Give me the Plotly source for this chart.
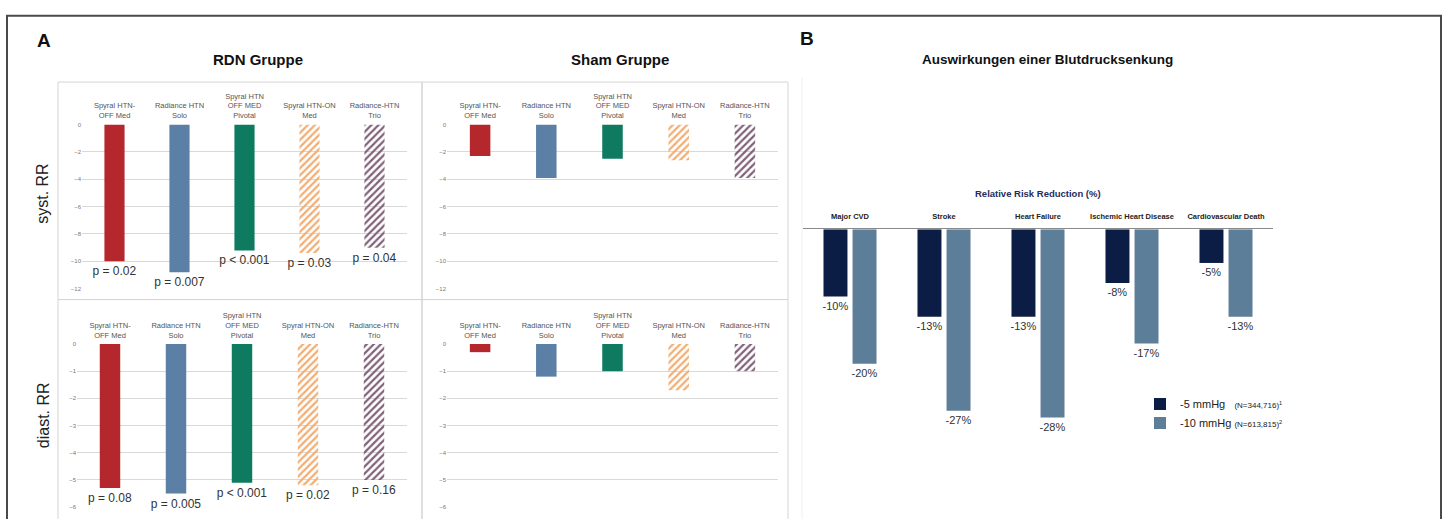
import plotly.graph_objects as go

W, H = 1447, 519

# ---------------- data ----------------
categories_A = ["Spyral HTN-<br>OFF Med", "Radiance HTN<br>Solo",
                "Spyral HTN<br>OFF MED<br>Pivotal", "Spyral HTN-ON<br>Med",
                "Radiance-HTN<br>Trio"]
rdn_syst = [-10.0, -10.8, -9.2, -9.4, -9.0]
rdn_syst_p = ["p = 0.02", "p = 0.007", "p < 0.001", "p = 0.03", "p = 0.04"]
sham_syst = [-2.3, -3.9, -2.5, -2.6, -3.9]
rdn_diast = [-5.3, -5.5, -5.1, -5.2, -5.0]
rdn_diast_p = ["p = 0.08", "p = 0.005", "p < 0.001", "p = 0.02", "p = 0.16"]
sham_diast = [-0.3, -1.2, -1.0, -1.7, -1.0]
syst_ticks = [0, -2, -4, -6, -8, -10, -12]
diast_ticks = [0, -1, -2, -3, -4, -5, -6]

outcomes = ["Major CVD", "Stroke", "Heart Failure", "Ischemic Heart Disease",
            "Cardiovascular Death"]
rrr_5 = [-10, -13, -13, -8, -5]
rrr_10 = [-20, -27, -28, -17, -13]
legend_5 = "-5 mmHg   <span style='font-size:8px'>(N=344,716)<sup>1</sup></span>"
legend_10 = "-10 mmHg <span style='font-size:8px'>(N=613,815)<sup>2</sup></span>"

# ---------------- styles ----------------
bar_colors = ["#b3272d", "#5b7fa5", "#0e7a5f", "#f2ad72", "#80627a"]
hatch_shapes = ["", "", "", "/", "/"]
dark_navy = "#0c1d45"
steel = "#5d7e98"
FONT = "Liberation Sans, Arial, sans-serif"


def X(px):
    return px / W


def Y(py):
    return 1 - py / H


fig = go.Figure()


def panel_bars(vals, xa, ya, texts=None):
    fig.add_trace(go.Bar(
        x=categories_A, y=vals, xaxis=xa, yaxis=ya, width=0.31,
        marker=dict(color=bar_colors, line=dict(width=0),
                    pattern=dict(shape=hatch_shapes, bgcolor="white",
                                 size=5, solidity=0.45, fillmode="replace")),
        text=texts, textposition="outside" if texts else None,
        textfont=dict(size=12, color="#333", family=FONT),
        constraintext="none", cliponaxis=False, showlegend=False,
        hoverinfo="skip"))


panel_bars(rdn_syst, "x", "y", rdn_syst_p)
panel_bars(sham_syst, "x2", "y2")
panel_bars(rdn_diast, "x3", "y3", rdn_diast_p)
panel_bars(sham_diast, "x4", "y4")

fig.add_trace(go.Bar(
    x=outcomes, y=rrr_5, xaxis="x5", yaxis="y5", name=legend_5,
    width=0.255, offset=-0.282, marker=dict(color=dark_navy, line=dict(width=0)),
    text=[f"{v}%" for v in rrr_5], textposition="outside",
    textfont=dict(size=11, color="#333", family=FONT),
    constraintext="none", cliponaxis=False))
fig.add_trace(go.Bar(
    x=outcomes, y=rrr_10, xaxis="x5", yaxis="y5", name=legend_10,
    width=0.255, offset=0.027, marker=dict(color=steel, line=dict(width=0)),
    text=[f"{v}%" for v in rrr_10], textposition="outside",
    textfont=dict(size=11, color="#333", family=FONT),
    constraintext="none", cliponaxis=False))

xA = dict(type="category", side="top", showgrid=False, ticks="", showline=False,
          zeroline=False, tickfont=dict(size=7.5, color="#555", family=FONT),
          ticklabelstandoff=4, tickangle=0, fixedrange=True)
yA = dict(showgrid=True, gridcolor="#d9d9d9", gridwidth=1, zeroline=False,
          showline=False, ticks="", tickfont=dict(size=6, color="#777", family=FONT),
          fixedrange=True)

fig.update_layout(
    width=W, height=H, autosize=False,
    margin=dict(l=0, r=0, t=0, b=0),
    paper_bgcolor="white", plot_bgcolor="white",
    barmode="overlay",
    font=dict(family=FONT),
    xaxis=dict(xA, domain=[X(82), X(407)], anchor="y"),
    yaxis=dict(yA, domain=[Y(289), Y(123)], range=[-12, 0], tickvals=syst_ticks, anchor="x"),
    xaxis2=dict(xA, domain=[X(447), X(778)], anchor="y2"),
    yaxis2=dict(yA, domain=[Y(289), Y(123)], range=[-12, 0], tickvals=syst_ticks, anchor="x2"),
    xaxis3=dict(xA, domain=[X(77), X(407)], anchor="y3"),
    yaxis3=dict(yA, domain=[Y(510), Y(345)], range=[-6, 0], tickvals=diast_ticks, anchor="x3"),
    xaxis4=dict(xA, domain=[X(447), X(778)], anchor="y4"),
    yaxis4=dict(yA, domain=[Y(510), Y(345)], range=[-6, 0], tickvals=diast_ticks, anchor="x4"),
    xaxis5=dict(type="category", side="top", domain=[X(803), X(1273)], anchor="y5",
                showgrid=False, ticks="", showline=True, linecolor="#8a8a8a", linewidth=1,
                zeroline=False, ticklabelstandoff=6, tickangle=0, fixedrange=True,
                tickfont=dict(size=7.5, color="#222", family=FONT, weight="bold")),
    yaxis5=dict(domain=[Y(433), Y(229)], range=[-30, 0], visible=False, anchor="x5",
                fixedrange=True),
    legend=dict(x=X(1140), y=Y(391), xanchor="left", yanchor="top",
                font=dict(size=11, color="#222", family=FONT),
                bgcolor="rgba(0,0,0,0)", itemwidth=30, tracegroupgap=4),
)

# frames / panel boxes
shapes = [
    dict(type="rect", xref="paper", yref="paper", x0=X(7), x1=X(1441), y0=Y(540), y1=Y(13),
         line=dict(color="#4a4a4a", width=2)),
    dict(type="rect", xref="paper", yref="paper", x0=X(58), x1=X(422), y0=Y(300), y1=Y(80),
         line=dict(color="#d4d4d4", width=1)),
    dict(type="rect", xref="paper", yref="paper", x0=X(422), x1=X(788), y0=Y(300), y1=Y(80),
         line=dict(color="#d4d4d4", width=1)),
    dict(type="rect", xref="paper", yref="paper", x0=X(58), x1=X(422), y0=Y(540), y1=Y(300),
         line=dict(color="#d4d4d4", width=1)),
    dict(type="rect", xref="paper", yref="paper", x0=X(422), x1=X(788), y0=Y(540), y1=Y(300),
         line=dict(color="#d4d4d4", width=1)),
    dict(type="line", xref="paper", yref="paper", x0=X(802), x1=X(802), y0=Y(540), y1=Y(75),
         line=dict(color="#f0f0f0", width=1)),
]
fig.update_layout(shapes=shapes)


def ann(text, px, py, size, bold=False, color="#111", angle=0):
    fig.add_annotation(text=f"<b>{text}</b>" if bold else text, x=X(px), y=Y(py),
                       xref="paper", yref="paper", showarrow=False, textangle=angle,
                       xanchor="center", yanchor="middle",
                       font=dict(size=size, color=color, family=FONT))


ann("A", 44, 38, 19, bold=True)
ann("B", 807, 36, 19, bold=True)
ann("RDN Gruppe", 258, 57, 15, bold=True)
ann("Sham Gruppe", 620, 57, 15, bold=True)
ann("Auswirkungen einer Blutdrucksenkung", 1047, 57, 13.5, bold=True)
ann("Relative Risk Reduction (%)", 1038, 193, 9.5, bold=True, color="#1f2d5c")
ann("syst. RR", 43, 193, 16, color="#222", angle=-90)
ann("diast. RR", 43, 417, 16, color="#222", angle=-90)

fig.write_html("out.html", config={"displayModeBar": False, "staticPlot": True},
               post_script="document.body.style.margin='0';document.body.style.overflow='hidden';")
